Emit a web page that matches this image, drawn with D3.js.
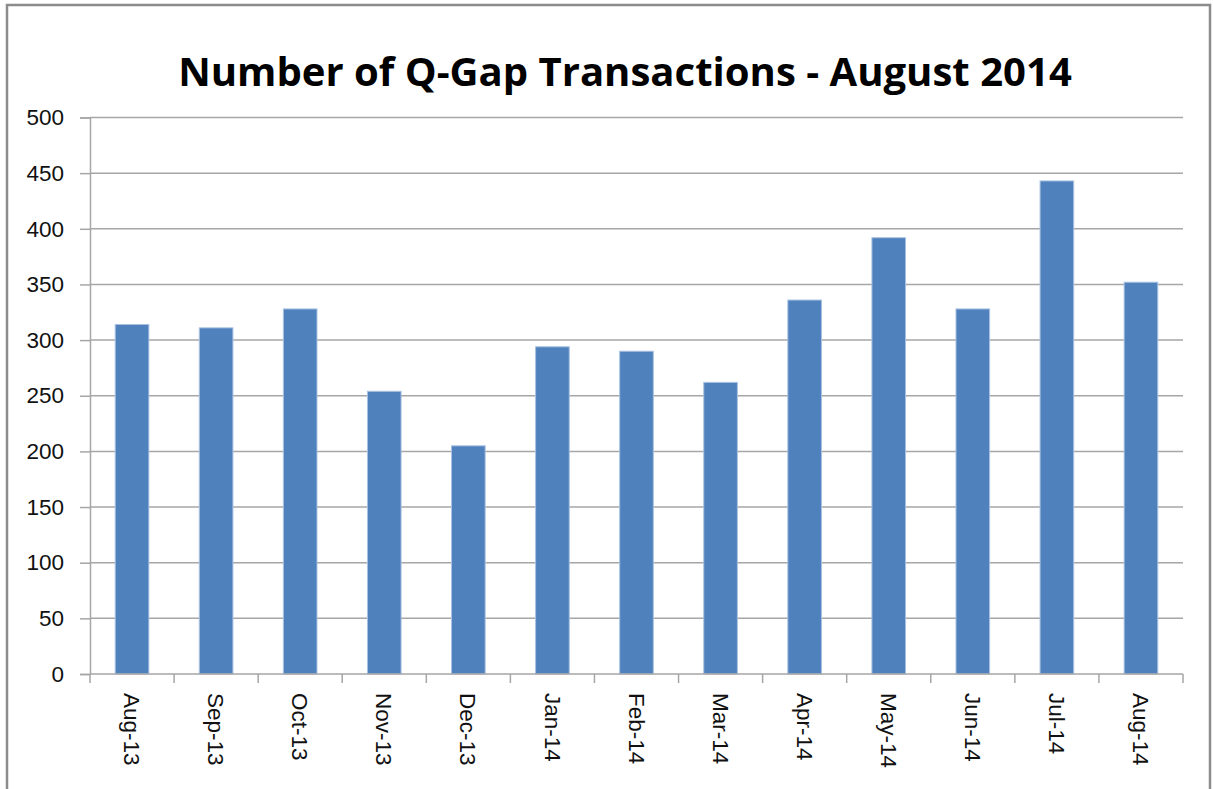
<!DOCTYPE html>
<html>
<head>
<meta charset="utf-8">
<script src="https://cdn.jsdelivr.net/npm/d3@7"></script>
<style>
  body { margin: 0; background: #fff; }
  svg { display: block; }
</style>
</head>
<body>
<svg id="chart" width="1213" height="789"></svg>
<script>
// 数据
const months = ["Aug-13", "Sep-13", "Oct-13", "Nov-13", "Dec-13", "Jan-14", "Feb-14",
  "Mar-14", "Apr-14", "May-14", "Jun-14", "Jul-14", "Aug-14"];
const transactions = [314, 311, 328, 254, 205, 294, 290, 262, 336, 392, 328, 443, 352];
const yTicks = [0, 50, 100, 150, 200, 250, 300, 350, 400, 450, 500];
const titleText = "Number of Q-Gap Transactions - August 2014";

const svg = d3.select("#chart");
const plotLeft = 90, plotRight = 1183, plotTop = 117.5, plotBottom = 674;
const gridColor = "#a6a6a6";
const labelSize = 22.5;

// 外框
svg.append("rect")
  .attr("x", 7).attr("y", 5)
  .attr("width", 1203).attr("height", 800)
  .attr("fill", "#fff")
  .attr("stroke", "#8c8c8c")
  .attr("stroke-width", 2.5);

const x = d3.scaleBand().domain(months).range([plotLeft, plotRight]).paddingInner(0.6).paddingOuter(0.3);
const y = d3.scaleLinear().domain([0, 500]).range([plotBottom, plotTop]);

// 网格线
svg.append("g")
  .selectAll("line")
  .data(yTicks.filter(d => d > 0))
  .join("line")
  .attr("x1", plotLeft).attr("x2", plotRight)
  .attr("y1", d => y(d)).attr("y2", d => y(d))
  .attr("stroke", gridColor)
  .attr("stroke-width", 1.5);

// 柱子
svg.append("g")
  .selectAll("rect")
  .data(months)
  .join("rect")
  .attr("x", d => x(d))
  .attr("y", (d, i) => y(transactions[i]))
  .attr("width", x.bandwidth())
  .attr("height", (d, i) => y(0) - y(transactions[i]))
  .attr("fill", "#4f81bd")
  .attr("stroke", "#a9c1e0")
  .attr("stroke-width", 1);

// y 轴
const yAxis = svg.append("g")
  .attr("transform", `translate(${plotLeft},0)`)
  .call(d3.axisLeft(y).tickValues(yTicks).tickSize(10).tickPadding(16));
yAxis.select(".domain").attr("stroke", gridColor).attr("stroke-width", 1.5);
yAxis.selectAll(".tick line").attr("stroke", gridColor).attr("stroke-width", 1.5);
yAxis.selectAll(".tick text")
  .attr("font-family", "Liberation Sans, Arial, sans-serif")
  .attr("font-size", labelSize)
  .attr("fill", "#111");

// x 轴
const boundaries = d3.range(months.length + 1).map(i => plotLeft + i * (plotRight - plotLeft) / months.length);
const xg = svg.append("g");
xg.append("line")
  .attr("x1", plotLeft).attr("x2", plotRight)
  .attr("y1", plotBottom).attr("y2", plotBottom)
  .attr("stroke", gridColor).attr("stroke-width", 1.5);
xg.selectAll("line.tk")
  .data(boundaries)
  .join("line")
  .attr("class", "tk")
  .attr("x1", d => d).attr("x2", d => d)
  .attr("y1", plotBottom).attr("y2", plotBottom + 9)
  .attr("stroke", gridColor).attr("stroke-width", 1.5);
xg.selectAll("text")
  .data(months)
  .join("text")
  .attr("transform", d => `translate(${x(d) + x.bandwidth() / 2},693) rotate(90)`)
  .attr("dy", "0.35em")
  .attr("font-family", "Liberation Sans, Arial, sans-serif")
  .attr("font-size", labelSize)
  .attr("fill", "#111")
  .text(d => d);

// 标题
const title = svg.append("text")
  .attr("x", 625).attr("y", 86)
  .attr("text-anchor", "middle")
  .attr("font-family", "Open Sans, sans-serif")
  .attr("font-weight", "bold")
  .attr("font-size", 42)
  .attr("fill", "#000")
  .text(titleText);
const tw = title.node().getComputedTextLength();
title.attr("font-size", 42 * 894 / tw);
</script>
</body>
</html>
